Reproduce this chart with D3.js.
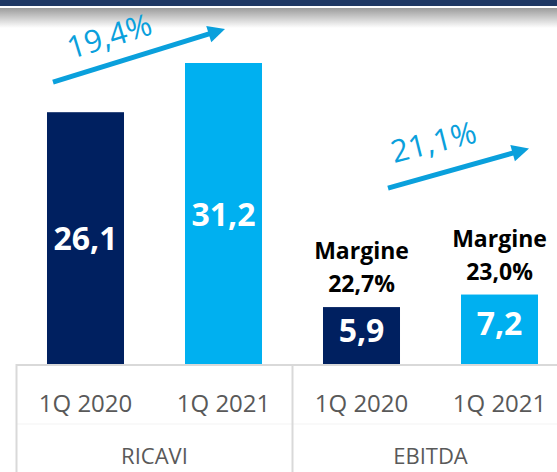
<!DOCTYPE html>
<html>
<head>
<meta charset="utf-8">
<script src="https://cdn.jsdelivr.net/npm/d3@7"></script>
<style>
  html, body { margin: 0; padding: 0; background: #fff; }
  svg { display: block; }
</style>
</head>
<body>
<div id="chart"></div>
<script>
// ---- data ----
const categories = ["1Q 2020", "1Q 2021", "1Q 2020", "1Q 2021"];
const groups = ["RICAVI", "EBITDA"];
const values = [26.1, 31.2, 5.9, 7.2];
const valueLabels = ["26,1", "31,2", "5,9", "7,2"];
const marginLabels = [null, null, "22,7%", "23,0%"];
const marginTitle = "Margine";
const growthLabels = ["19,4%", "21,1%"];
const barColors = ["#002060", "#00B0F0", "#002060", "#00B0F0"];

// ---- layout ----
const W = 557, H = 472;
const FONT = "'Open Sans', 'DejaVu Sans', sans-serif";
const svg = d3.select("#chart").append("svg").attr("width", W).attr("height", H);

// header band
const defs = svg.append("defs");
const grad = defs.append("linearGradient").attr("id", "shade").attr("x1", 0).attr("y1", 0).attr("x2", 0).attr("y2", 1);
grad.append("stop").attr("offset", "0%").attr("stop-color", "#9c9c9c");
grad.append("stop").attr("offset", "100%").attr("stop-color", "#ffffff");
svg.append("rect").attr("x", 0).attr("y", 8).attr("width", W).attr("height", 20).attr("fill", "url(#shade)");
svg.append("rect").attr("x", 0).attr("y", 0).attr("width", W).attr("height", 6).attr("fill", "#1F3864");

const idx = d3.range(values.length);
const x = d3.scaleBand().domain(idx).range([16.5, 568.5]).paddingInner(0.442).paddingOuter(0.221);
const y = d3.scaleLinear().domain([0, 31.2]).range([364, 63]);
const bw = x.bandwidth();
const cx = i => x(i) + bw / 2;

// bars
svg.append("g").selectAll("rect").data(idx).join("rect")
  .attr("x", i => x(i)).attr("y", i => y(values[i]))
  .attr("width", bw).attr("height", i => y(0) - y(values[i]))
  .attr("fill", i => barColors[i]);

// value labels inside bars
svg.append("g").selectAll("text").data(idx).join("text")
  .attr("x", cx)
  .attr("y", i => {
    const mid = (y(values[i]) + y(0)) / 2;
    return values[i] < 10 ? mid + 6 : mid + 12;
  })
  .attr("text-anchor", "middle")
  .attr("font-family", FONT).attr("font-weight", 700).attr("font-size", 32)
  .attr("fill", "#ffffff")
  .text(i => valueLabels[i]);

// margin labels above EBITDA bars
const mg = svg.append("g").selectAll("text").data(idx.filter(i => marginLabels[i])).join("text")
  .attr("text-anchor", "middle")
  .attr("font-family", FONT).attr("font-weight", 700).attr("font-size", 23)
  .attr("fill", "#000000");
mg.append("tspan").attr("x", cx).attr("y", i => y(values[i]) - 48).text(marginTitle);
mg.append("tspan").attr("x", cx).attr("y", i => y(values[i]) - 15).text(i => marginLabels[i]);

// x axis (tick labels)
const axis = d3.axisBottom(x).tickSize(0).tickPadding(31).tickFormat(i => categories[i]);
const ax = svg.append("g").attr("transform", `translate(0,${y(0)})`).call(axis);
ax.select(".domain").remove();
ax.selectAll("text").attr("font-family", FONT).attr("font-size", 24).attr("fill", "#595959");

// table lines
const lineCol = "#d9d9d9";
const left = x.range()[0], right = x.range()[1];
const sep = (x(1) + bw + x(2)) / 2;
svg.append("line").attr("x1", left).attr("x2", W).attr("y1", y(0) + 1).attr("y2", y(0) + 1)
  .attr("stroke", lineCol).attr("stroke-width", 2);
svg.append("line").attr("x1", left).attr("x2", W).attr("y1", 424).attr("y2", 424)
  .attr("stroke", "#f3f3f3").attr("stroke-width", 1);
[left, sep].forEach(xx => {
  svg.append("line").attr("x1", xx).attr("x2", xx).attr("y1", y(0)).attr("y2", H)
    .attr("stroke", lineCol).attr("stroke-width", 2);
});

// group labels
const groupCenters = [(left + sep) / 2, (sep + right) / 2];
svg.append("g").selectAll("text").data(groups).join("text")
  .attr("x", (d, i) => groupCenters[i]).attr("y", 464)
  .attr("text-anchor", "middle")
  .attr("font-family", FONT).attr("font-size", 22).attr("fill", "#595959")
  .text(d => d);

// growth arrows
const arrowCol = "#0aa0dc";
const arrows = [
  { x1: x(0) + 6, y1: y(values[0]) - 30, x2: cx(1) + 1.5, y2: y(values[1]) - 34, lx: 18, ly: -23, rot: -17 },
  { x1: cx(2) + 26.5, y1: y(values[2]) - 119, x2: cx(3) + 29.5, y2: y(values[3]) - 146, lx: 6, ly: -25, rot: -14 }
];
const ag = svg.append("g");
arrows.forEach((a, k) => {
  const dx = a.x2 - a.x1, dy = a.y2 - a.y1, L = Math.hypot(dx, dy);
  const ux = dx / L, uy = dy / L, px = -uy, py = ux;
  const hl = 17, hw = 8.5;
  const bx = a.x2 - ux * hl, by = a.y2 - uy * hl;
  ag.append("line").attr("x1", a.x1).attr("y1", a.y1).attr("x2", bx + ux * 2).attr("y2", by + uy * 2)
    .attr("stroke", arrowCol).attr("stroke-width", 5);
  ag.append("path")
    .attr("d", `M${a.x2},${a.y2} L${bx + px * hw},${by + py * hw} L${bx - px * hw},${by - py * hw} Z`)
    .attr("fill", arrowCol);
  ag.append("text")
    .attr("transform", `translate(${a.x1 + a.lx},${a.y1 + a.ly}) rotate(${a.rot})`)
    .attr("font-family", FONT).attr("font-size", 31).attr("fill", arrowCol)
    .text(growthLabels[k]);
});
</script>
</body>
</html>
